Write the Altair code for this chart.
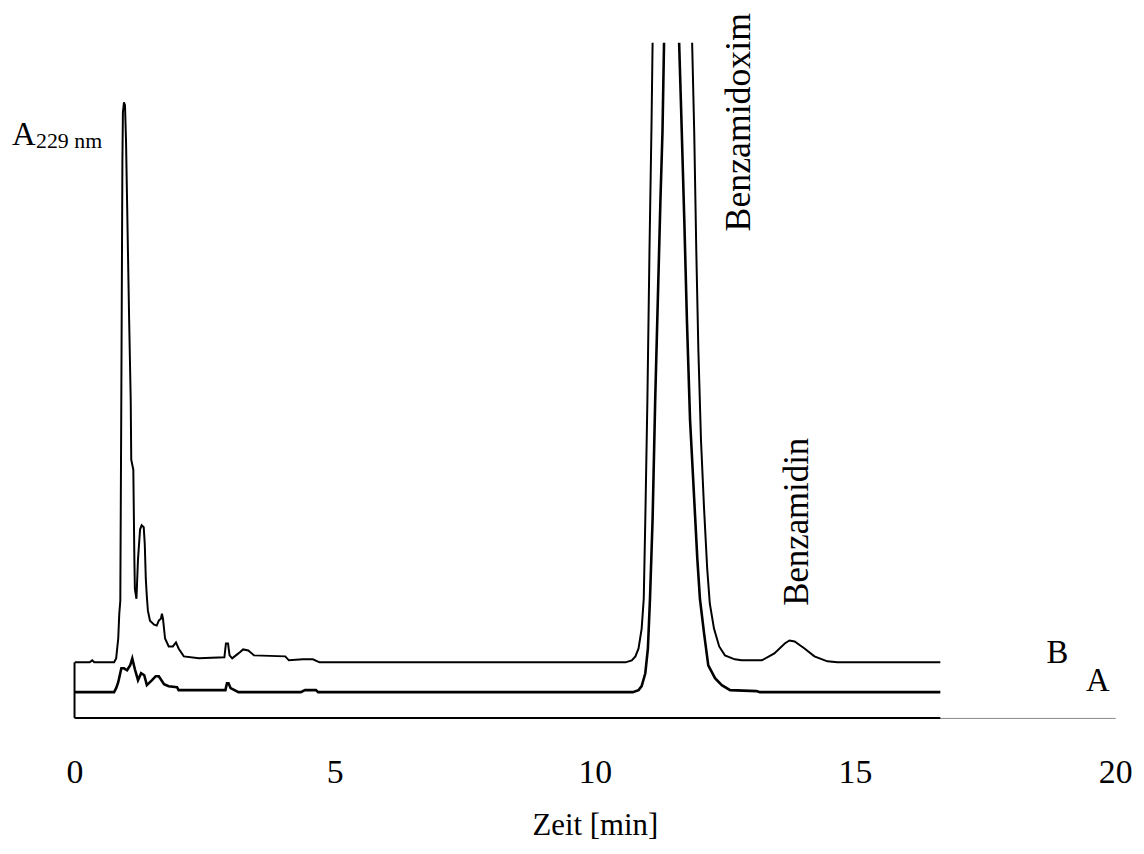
import altair as alt
import pandas as pd

# Trace B (upper chromatogram): retention time [min], absorbance (arbitrary units, offset trace)
tB = [0.00, 0.29, 0.34, 0.38, 0.76, 0.80, 0.84, 0.86, 0.88, 0.90, 0.92, 0.93, 0.95, 0.97, 0.99,
      1.01, 1.05, 1.08, 1.09, 1.13, 1.15, 1.16, 1.19, 1.22, 1.26, 1.29, 1.33, 1.35, 1.37, 1.39,
      1.41, 1.45, 1.53, 1.58, 1.62, 1.66, 1.68, 1.70, 1.74, 1.81, 1.89, 1.95, 2.00, 2.10, 2.39,
      2.88, 2.91, 2.95, 2.98, 3.03, 3.15, 3.24, 3.34, 3.45, 4.05, 4.12, 4.39, 4.58, 4.71, 10.59,
      10.71, 10.78, 10.84, 10.90, 10.94, 10.97, 11.01, 11.05, 11.09, 11.11, 11.13,
      11.85, 11.87, 11.91, 11.95, 11.99, 12.04, 12.10, 12.16, 12.21, 12.29, 12.39, 12.50, 12.69,
      12.82, 13.21, 13.45, 13.65, 13.74, 13.84, 14.03, 14.22, 14.47, 14.66, 16.64]
vB = [56, 56, 58, 56, 56, 60, 80, 105, 118, 330, 560, 610, 620, 617, 580,
      520, 400, 320, 260, 250, 160, 130, 120, 160, 190, 194, 192, 175, 140, 122,
      108, 98, 94, 93, 98, 100, 105, 100, 80, 72, 72, 76, 70, 62, 60,
      61, 75, 75, 63, 60, 65, 69, 68, 63, 62, 58, 59, 59, 56, 56,
      58, 62, 70, 90, 120, 200, 320, 470, 600, 680, 780,
      780, 680, 590, 470, 370, 280, 210, 150, 115, 90, 72, 63, 59,
      58, 58, 65, 75, 78, 77, 70, 62, 57, 56, 56]

# Trace A (lower chromatogram)
tA = [0.00, 0.76, 0.80, 0.84, 0.90, 0.95, 1.01, 1.07, 1.11, 1.16, 1.22, 1.28, 1.34, 1.39, 1.49,
      1.56, 1.62, 1.72, 1.81, 1.97, 2.00, 2.90, 2.93, 2.96, 3.00, 3.15, 4.35, 4.43, 4.64, 4.68,
      10.73, 10.84, 10.90, 10.97, 11.02, 11.06, 11.11, 11.16, 11.21, 11.26, 11.30, 11.33, 11.35,
      11.60, 11.62, 11.66, 11.72, 11.77, 11.83, 11.91, 11.97, 12.02, 12.10, 12.18, 12.31, 12.44,
      12.60, 13.11, 13.17, 16.64]
vA = [26, 26, 30, 36, 50, 50, 48, 53, 60, 49, 38, 45, 43, 33, 38,
      42, 42, 34, 32, 31, 28, 28, 35, 35, 30, 26, 26, 28, 28, 26,
      26, 28, 32, 45, 70, 120, 200, 320, 420, 520, 590, 680, 780,
      780, 680, 610, 500, 400, 300, 220, 160, 120, 85, 53, 40, 33,
      28, 27, 26, 26]

# Annotations
peak_labels = ["Benzamidoxim", "Benzamidin"]
peak_t = [12.77, 13.88]
peak_v = [490, 113]
peak_size = [36, 35]

trace_labels = ["B", "A"]
trace_t = [18.68, 19.44]
trace_v = [55, 27]

ylab_main = "A"
ylab_sub = "229 nm"

FONT = "Liberation Serif"
X_END = 16.64

dfB = pd.DataFrame({"t": tB, "v": vB, "i": range(len(tB))})
dfA = pd.DataFrame({"t": tA, "v": vA, "i": range(len(tA))})

xscale = alt.Scale(domain=[0, 20], nice=False, zero=False)
yscale = alt.Scale(domain=[0, 680], nice=False, zero=False)
xaxis = alt.Axis(values=[0, 5, 10, 15, 20], title="Zeit [min]", ticks=False, tickSize=0,
                 grid=False, labelFont=FONT, labelFontSize=34, labelPadding=38,
                 labelFlush=False, labelOverlap=False, labelColor="black",
                 titleFont=FONT, titleFontSize=31, titleFontWeight="normal",
                 titleColor="black", titleY=117, titleBaseline="alphabetic",
                 domainColor="#888888", domainWidth=1, format="d")

X = lambda f="t": alt.X(f"{f}:Q", scale=xscale, axis=xaxis)
Y = lambda f="v": alt.Y(f"{f}:Q", scale=yscale, axis=None)

lineB = alt.Chart(dfB).mark_line(color="black", strokeWidth=2.0, clip=True).encode(
    x=X(), y=Y(), order="i:Q")
lineA = alt.Chart(dfA).mark_line(color="black", strokeWidth=2.6, clip=True).encode(
    x=X(), y=Y(), order="i:Q")

base_df = pd.DataFrame({"t": [0.0], "t2": [X_END], "v": [0], "v2": [56]})
baseline = alt.Chart(base_df).mark_rule(color="black", strokeWidth=2).encode(
    x=X(), x2="t2:Q", y=Y())
leftline = alt.Chart(base_df).mark_rule(color="black", strokeWidth=2).encode(
    x=X(), y=Y(), y2="v2:Q")

peak_df = pd.DataFrame({"t": peak_t, "v": peak_v, "label": peak_labels, "s": peak_size})
peak_text = alt.Chart(peak_df).mark_text(angle=270, align="left", baseline="middle",
                                         font=FONT, color="black").encode(
    x=X(), y=Y(), text="label:N", size=alt.Size("s:Q", scale=None, legend=None))

tr_df = pd.DataFrame({"t": trace_t, "v": trace_v, "label": trace_labels})
tr_text = alt.Chart(tr_df).mark_text(align="left", baseline="alphabetic", font=FONT,
                                     fontSize=33, color="black").encode(
    x=X(), y=Y(), text="label:N")

ya_df = pd.DataFrame({"t": [-1.20], "v": [577], "label": [ylab_main]})
ya_text = alt.Chart(ya_df).mark_text(align="left", baseline="alphabetic", font=FONT,
                                     fontSize=33, color="black").encode(
    x=X(), y=Y(), text="label:N")
ys_df = pd.DataFrame({"t": [-0.74], "v": [574], "label": [ylab_sub]})
ys_text = alt.Chart(ys_df).mark_text(align="left", baseline="alphabetic", font=FONT,
                                     fontSize=22, color="black").encode(
    x=X(), y=Y(), text="label:N")

chart = alt.layer(baseline, leftline, lineA, lineB, peak_text, tr_text, ya_text, ys_text).properties(
    width=1048, height=680,
    autosize=alt.AutoSizeParams(type="none"),
    padding={"left": 67, "top": 32, "right": 21, "bottom": 126},
    background="white",
).configure(font=FONT).configure_text(font=FONT).configure_view(stroke=None)

chart.save("out.html", embed_options={"renderer": "svg", "actions": False})
